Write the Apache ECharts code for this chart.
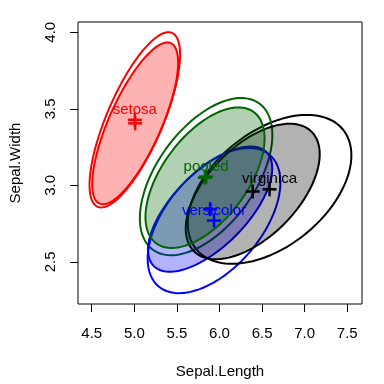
<!DOCTYPE html>
<html><head><meta charset="utf-8">
<script src="https://cdn.jsdelivr.net/npm/echarts@6/dist/echarts.min.js"></script>
<style>html,body{margin:0;padding:0;background:#fff}#c{width:384px;height:384px}</style>
</head><body><div id="c"></div>
<script>
// groups and colours
const groups = ['setosa', 'versicolor', 'virginica', 'pooled'];
const lineColors = ['#FF0000', '#0000FF', '#000000', '#006400'];
const fillColors = ['rgba(255,0,0,0.3)', 'rgba(0,0,255,0.3)', 'rgba(0,0,0,0.3)', 'rgba(0,100,0,0.3)'];
// classical estimates (unfilled ellipses)
const classMeanX = [5.006, 5.936, 6.588, 5.843];
const classMeanY = [3.428, 2.770, 2.974, 3.057];
const classSdX = [0.352, 0.516, 0.636, 0.515];
const classSdY = [0.379, 0.314, 0.322, 0.340];
const classCor = [0.743, 0.526, 0.457, 0.53];
// robust estimates (filled ellipses)
const robMeanX = [5.01, 5.89, 6.39, 5.83];
const robMeanY = [3.405, 2.845, 2.96, 3.05];
const robSdX = [0.334, 0.483, 0.521, 0.463];
const robSdY = [0.35, 0.271, 0.293, 0.304];
const robCor = [0.75, 0.65, 0.55, 0.56];
const radius = 1.51;
// axis ticks
const xTicks = [4.5, 5.0, 5.5, 6.0, 6.5, 7.0, 7.5];
const yTicks = [2.5, 3.0, 3.5, 4.0];
const xRange = [4.339, 7.673];
const yRange = [2.225, 4.067];

const FONT = 'Liberation Sans, Arial, sans-serif';

function ellipseShape(api, cx, cy, sx, sy, rho) {
  const pts = [];
  const n = 120;
  const k = Math.sqrt(1 - rho * rho);
  for (let i = 0; i < n; i++) {
    const t = 2 * Math.PI * i / n;
    const x = cx + radius * sx * Math.cos(t);
    const y = cy + radius * sy * (rho * Math.cos(t) + k * Math.sin(t));
    pts.push(api.coord([x, y]));
  }
  return pts;
}

function makeEllipseSeries(mx, my, sdx, sdy, cor, filled) {
  return {
    type: 'custom',
    coordinateSystem: 'cartesian2d',
    silent: true,
    data: groups.map((g, i) => [mx[i], my[i], i]),
    renderItem: function (params, api) {
      const i = api.value(2);
      return {
        type: 'polygon',
        shape: { points: ellipseShape(api, mx[i], my[i], sdx[i], sdy[i], cor[i]) },
        style: { fill: filled ? fillColors[i] : 'none', stroke: lineColors[i], lineWidth: 2 }
      };
    }
  };
}

function makeCrossSeries(mx, my) {
  return {
    type: 'custom',
    coordinateSystem: 'cartesian2d',
    silent: true,
    data: groups.map((g, i) => [mx[i], my[i], i]),
    renderItem: function (params, api) {
      const i = api.value(2);
      const p = api.coord([mx[i], my[i]]);
      const h = 7;
      return {
        type: 'group',
        children: [
          { type: 'line', shape: { x1: p[0] - h, y1: p[1], x2: p[0] + h, y2: p[1] }, style: { stroke: lineColors[i], lineWidth: 2.5 } },
          { type: 'line', shape: { x1: p[0], y1: p[1] - h, x2: p[0], y2: p[1] + h }, style: { stroke: lineColors[i], lineWidth: 2.5 } }
        ]
      };
    }
  };
}

const labelSeries = {
  type: 'custom',
  coordinateSystem: 'cartesian2d',
  silent: true,
  data: groups.map((g, i) => [classMeanX[i], classMeanY[i], i]),
  renderItem: function (params, api) {
    const i = api.value(2);
    const p = api.coord([classMeanX[i], classMeanY[i]]);
    return {
      type: 'text',
      style: { text: groups[i], x: p[0], y: p[1] - 10, textAlign: 'center', textVerticalAlign: 'middle',
               fill: lineColors[i], font: '15px ' + FONT }
    };
  }
};

const chart = echarts.init(document.getElementById('c'), null, { renderer: 'canvas' });
chart.setOption({
  animation: false,
  backgroundColor: '#ffffff',
  textStyle: { fontFamily: FONT },
  grid: { left: 78, right: 22, top: 22, bottom: 79, show: true, borderColor: '#000', borderWidth: 1, backgroundColor: 'transparent' },
  xAxis: {
    type: 'value', min: xRange[0], max: xRange[1],
    axisLine: { show: false },
    splitLine: { show: false },
    axisTick: { show: true, customValues: xTicks, length: 8, lineStyle: { color: '#000' } },
    axisLabel: { customValues: xTicks, formatter: v => v.toFixed(1), fontSize: 15, color: '#000', margin: 22, fontFamily: FONT },
    name: 'Sepal.Length', nameLocation: 'middle', nameGap: 60,
    nameTextStyle: { fontSize: 15, color: '#000', fontFamily: FONT }
  },
  yAxis: {
    type: 'value', min: yRange[0], max: yRange[1],
    axisLine: { show: false },
    splitLine: { show: false },
    axisTick: { show: true, customValues: yTicks, length: 8, lineStyle: { color: '#000' } },
    axisLabel: { customValues: yTicks, formatter: v => v.toFixed(1), fontSize: 15, color: '#000', margin: 20, rotate: 90, fontFamily: FONT },
    name: 'Sepal.Width', nameLocation: 'middle', nameGap: 55, nameRotate: 90,
    nameTextStyle: { fontSize: 15, color: '#000', fontFamily: FONT }
  },
  series: [
    makeEllipseSeries(classMeanX, classMeanY, classSdX, classSdY, classCor, false),
    makeEllipseSeries(robMeanX, robMeanY, robSdX, robSdY, robCor, true),
    makeCrossSeries(classMeanX, classMeanY),
    makeCrossSeries(robMeanX, robMeanY),
    labelSeries
  ]
});
</script>
</body></html>
